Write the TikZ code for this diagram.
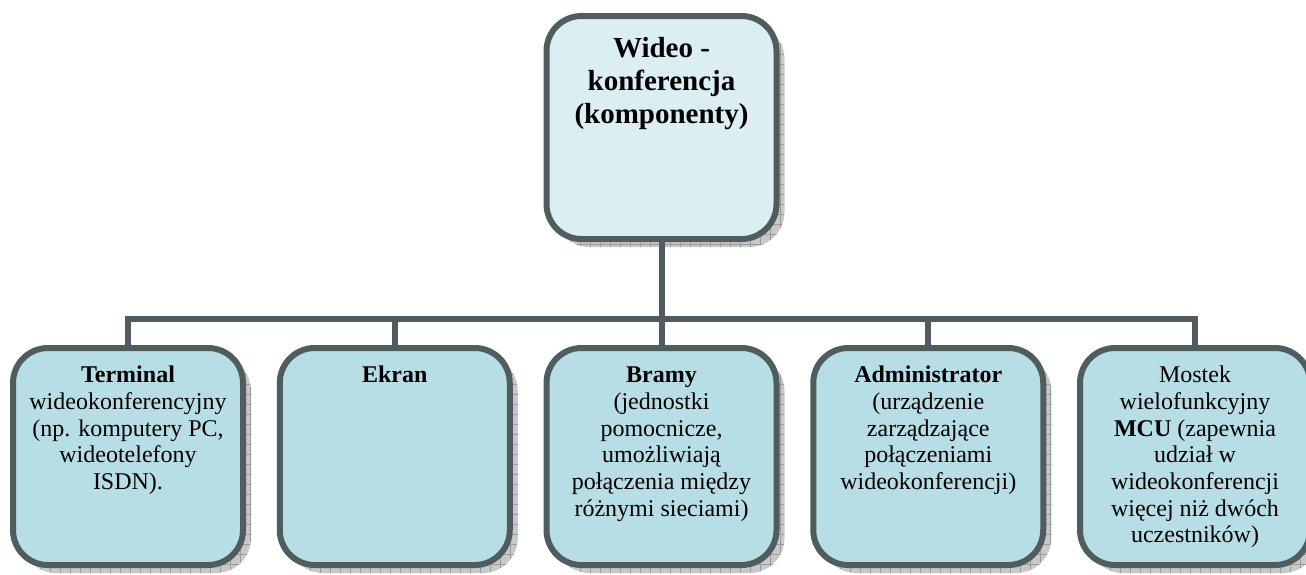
\documentclass[tikz,border=0pt]{standalone}
\usepackage{fontspec}
\setmainfont{Liberation Serif}
\usetikzlibrary{backgrounds,patterns.meta}
\definecolor{bordercol}{RGB}{79,93,94}
\definecolor{topfill}{RGB}{218,238,243}
\definecolor{boxfill}{RGB}{183,222,228}
\definecolor{shadowcol}{RGB}{200,200,200}
\definecolor{shadowline}{RGB}{155,155,155}
\tikzset{
  cbox/.style={draw=bordercol, line width=6pt, rounded corners=35pt,
    minimum width=230pt, inner sep=0pt, outer sep=0pt, fill=boxfill},
  topbox/.style={cbox, fill=topfill},
  conn/.style={draw=bordercol, line width=6pt},
  shadowbox/.style={rounded corners=35pt, fill=shadowcol,
    postaction={pattern={Hatch[distance=10pt, line width=0.7pt]}, pattern color=shadowline}}
}
\newcommand{\boxtext}[1]{\parbox[c][217pt][t]{226pt}{\centering\fontsize{24}{26.7}\selectfont\vspace*{16pt}\strut #1}}
\begin{document}
\begin{tikzpicture}[x=1pt,y=-1pt]
\useasboundingbox (0,0) rectangle (1306,574);
\node[topbox] (top) at (661.5,127.5) {\parbox[c][223pt][t]{226pt}{\centering\bfseries\fontsize{29}{33}\selectfont\vspace*{18pt}\strut Wideo -\\ konferencja\\ (komponenty)}};
\node[cbox] (b1) at (128,456.5) {\boxtext{\textbf{Terminal}\\ wideokonferencyjny\\ (np. komputery PC,\\ wideotelefony\\ ISDN).}};
\node[cbox] (b2) at (394.75,456.5) {\boxtext{\textbf{Ekran}}};
\node[cbox] (b3) at (661.5,456.5) {\boxtext{\textbf{Bramy}\\ (jednostki\\ pomocnicze,\\ umożliwiają\\ połączenia między\\ różnymi sieciami)}};
\node[cbox] (b4) at (928.25,456.5) {\boxtext{\textbf{Administrator}\\ (urządzenie\\ zarządzające\\ połączeniami\\ wideokonferencji)}};
\node[cbox] (b5) at (1195,456.5) {\boxtext{Mostek\\ wielofunkcyjny\\ \textbf{MCU} (zapewnia\\ udział w\\ wideokonferencji\\ więcej niż dwóch\\ uczestników)}};
\coordinate (hub) at (661.5,319);
\begin{scope}[on background layer]
  \foreach \n in {top,b1,b2,b3,b4,b5}{
    \path[shadowbox] ([shift={(8,8)}]\n.south west) rectangle ([shift={(8,8)}]\n.north east);
  }
  \draw[conn] (top.south) -- (hub);
  \draw[conn] (b1.north) |- (hub) -| (b5.north);
  \draw[conn] (b2.north) -- (b2.north |- hub);
  \draw[conn] (b3.north) -- (hub);
  \draw[conn] (b4.north) -- (b4.north |- hub);
\end{scope}
\end{tikzpicture}
\end{document}
